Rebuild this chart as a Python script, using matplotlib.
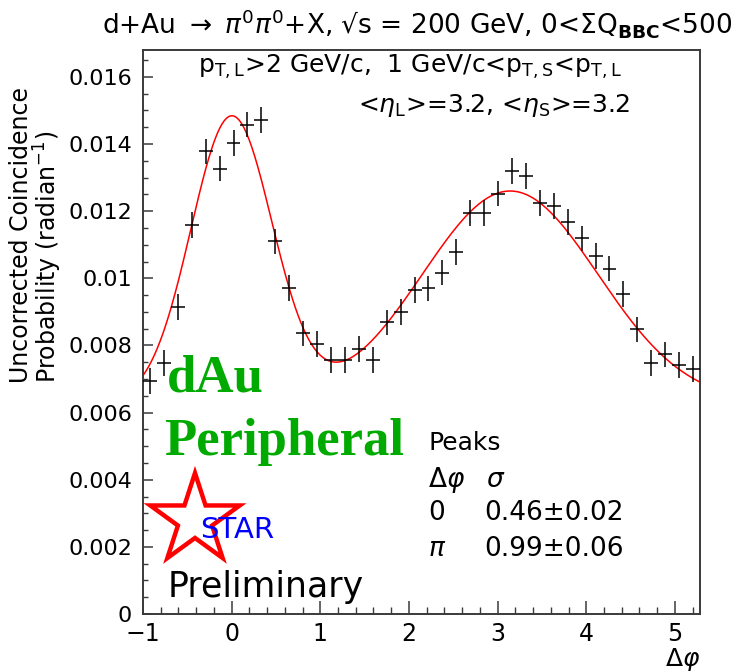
import numpy as np
import matplotlib
matplotlib.use("Agg")
import matplotlib.pyplot as plt
from matplotlib.patches import Polygon
from matplotlib.ticker import FixedLocator, FixedFormatter, MultipleLocator

plt.rcParams['font.family'] = ['DejaVu Sans']
plt.rcParams['mathtext.fontset'] = 'dejavusans'

# ---- data -------------------------------------------------------------
n_bins = 40
dphi_lo, dphi_hi = -1.0, 2 * np.pi - 1.0

prob = [0.00694, 0.00748, 0.00915, 0.01159, 0.01378, 0.01327, 0.01403, 0.01458,
        0.01471, 0.01110, 0.00971, 0.00836, 0.00805, 0.00756, 0.00756, 0.00790,
        0.00756, 0.00869, 0.00900, 0.00965, 0.00970, 0.01017, 0.01079, 0.01195,
        0.01194, 0.01252, 0.01320, 0.01305, 0.01224, 0.01215, 0.01167, 0.01119,
        0.01067, 0.01029, 0.00953, 0.00848, 0.00748, 0.00773, 0.00741, 0.00730]
prob_err = [0.00038] * n_bins

# double-Gaussian + pedestal fit
fit_base = 0.0063
fit_amp = [0.0085, 0.0063]
fit_mean = [0.0, np.pi]
fit_sigma = [0.46, 0.99]
fit_sigma_err = [0.02, 0.06]
peak_names = ["0", r"$\pi$"]

y_ticks = [0, 0.002, 0.004, 0.006, 0.008, 0.010, 0.012, 0.014, 0.016]
y_tick_labels = ["0", "0.002", "0.004", "0.006", "0.008", "0.01", "0.012", "0.014", "0.016"]
x_ticks = [-1, 0, 1, 2, 3, 4, 5]
x_tick_labels = ["\u22121", "0", "1", "2", "3", "4", "5"]

# ---- figure -----------------------------------------------------------
W, H = 744, 672
fig = plt.figure(figsize=(W / 100, H / 100), dpi=100)


def fpos(x, y):
    """pixel position (from top-left) -> figure fraction"""
    return x / W, 1 - y / H


ax = fig.add_axes([143 / W, 1 - 614 / H, 557 / W, 564 / H])
ax.set_xlim(dphi_lo, dphi_hi)
ax.set_ylim(0, 0.0168)

edges = np.linspace(dphi_lo, dphi_hi, n_bins + 1)
centers = 0.5 * (edges[1:] + edges[:-1])
half_w = 0.5 * (edges[1] - edges[0])

ax.errorbar(centers, prob, xerr=half_w, yerr=prob_err, fmt='none',
            ecolor='black', elinewidth=1.1, capsize=0, zorder=3)

xf = np.linspace(dphi_lo, dphi_hi, 400)
yf = np.full_like(xf, fit_base)
for a, m, s in zip(fit_amp, fit_mean, fit_sigma):
    yf += a * np.exp(-0.5 * ((xf - m) / s) ** 2)
ax.plot(xf, yf, color='#ff0000', lw=1.1, zorder=2)

# axes styling
for side in ['left', 'right', 'top', 'bottom']:
    ax.spines[side].set_color('#3a3a3a')
    ax.spines[side].set_linewidth(1.4)
ax.xaxis.set_major_locator(FixedLocator(x_ticks))
ax.xaxis.set_major_formatter(FixedFormatter(x_tick_labels))
ax.xaxis.set_minor_locator(MultipleLocator(0.2))
ax.yaxis.set_major_locator(FixedLocator(y_ticks))
ax.yaxis.set_major_formatter(FixedFormatter(y_tick_labels))
ax.yaxis.set_minor_locator(MultipleLocator(0.0005))
ax.tick_params(axis='x', which='major', direction='in', length=9.5, width=1.1,
               labelsize=17, pad=6, color='#3a3a3a')
ax.tick_params(axis='x', which='minor', direction='in', length=5, width=1.0,
               color='#3a3a3a')
ax.tick_params(axis='y', which='major', direction='in', length=7.5, width=1.1,
               labelsize=16, pad=8, color='#3a3a3a')
ax.tick_params(axis='y', which='minor', direction='in', length=3.8, width=1.0,
               color='#3a3a3a')

# titles and labels
fig.text(*fpos(102, 33),
         "d+Au $\\rightarrow$ $\\pi^{0}\\pi^{0}$+X, \u221as = 200 GeV, "
         "0<\u03a3Q$_{\\mathbf{BBC}}$<500",
         ha='left', va='baseline', fontsize=19)
fig.text(*fpos(21, 383), "Uncorrected Coincidence", rotation=90,
         ha='center', va='bottom', fontsize=17)
fig.text(*fpos(48, 383), "Probability (radian$^{-1}$)", rotation=90,
         ha='center', va='bottom', fontsize=17)
fig.text(*fpos(700, 666), r"$\Delta\varphi$", ha='right', va='baseline', fontsize=18)

fig.text(*fpos(198, 73),
         "p$_{\\mathrm{T,L}}$>2 GeV/c,  1 GeV/c<p$_{\\mathrm{T,S}}$<p$_{\\mathrm{T,L}}$",
         ha='left', va='baseline', fontsize=18)
fig.text(*fpos(358, 112),
         "<$\\eta_{\\mathrm{L}}$>=3.2, <$\\eta_{\\mathrm{S}}$>=3.2",
         ha='left', va='baseline', fontsize=18)

green = '#00aa00'
fig.text(*fpos(167, 392), "dAu", ha='left', va='baseline', fontsize=38,
         fontweight='bold', family='Liberation Serif', color=green)
fig.text(*fpos(164, 455), "Peripheral", ha='left', va='baseline', fontsize=38,
         fontweight='bold', family='Liberation Serif', color=green)

# fit results
fig.text(*fpos(428, 450), "Peaks", ha='left', va='baseline', fontsize=18)
fig.text(*fpos(428, 487), r"$\Delta\varphi$", ha='left', va='baseline', fontsize=19)
fig.text(*fpos(486, 487), r"$\sigma$", ha='left', va='baseline', fontsize=19)
for i, (name, s, e) in enumerate(zip(peak_names, fit_sigma, fit_sigma_err)):
    yb = 520 + 36 * i
    fig.text(*fpos(428, yb), name, ha='left', va='baseline', fontsize=19)
    fig.text(*fpos(484, yb), f"{s:.2f}\u00b1{e:.2f}", ha='left', va='baseline', fontsize=19)

# STAR logo
cx, cy, r_out = 195, 520, 47
r_in = r_out * 0.382
verts = []
for k in range(10):
    ang = np.pi / 2 + k * np.pi / 5
    rr = r_out if k % 2 == 0 else r_in
    verts.append(fpos(cx + rr * np.cos(ang), cy - rr * np.sin(ang)))
fig.patches.append(Polygon(verts, closed=True, fill=False, edgecolor='#ff0000',
                           lw=3.2, transform=fig.transFigure, figure=fig))
fig.text(*fpos(200, 538), "STAR", ha='left', va='baseline', fontsize=21, color='#0000ff')
fig.text(*fpos(168, 597), "Preliminary", ha='left', va='baseline', fontsize=25)

fig.savefig("out.png", dpi=100, facecolor='white')
